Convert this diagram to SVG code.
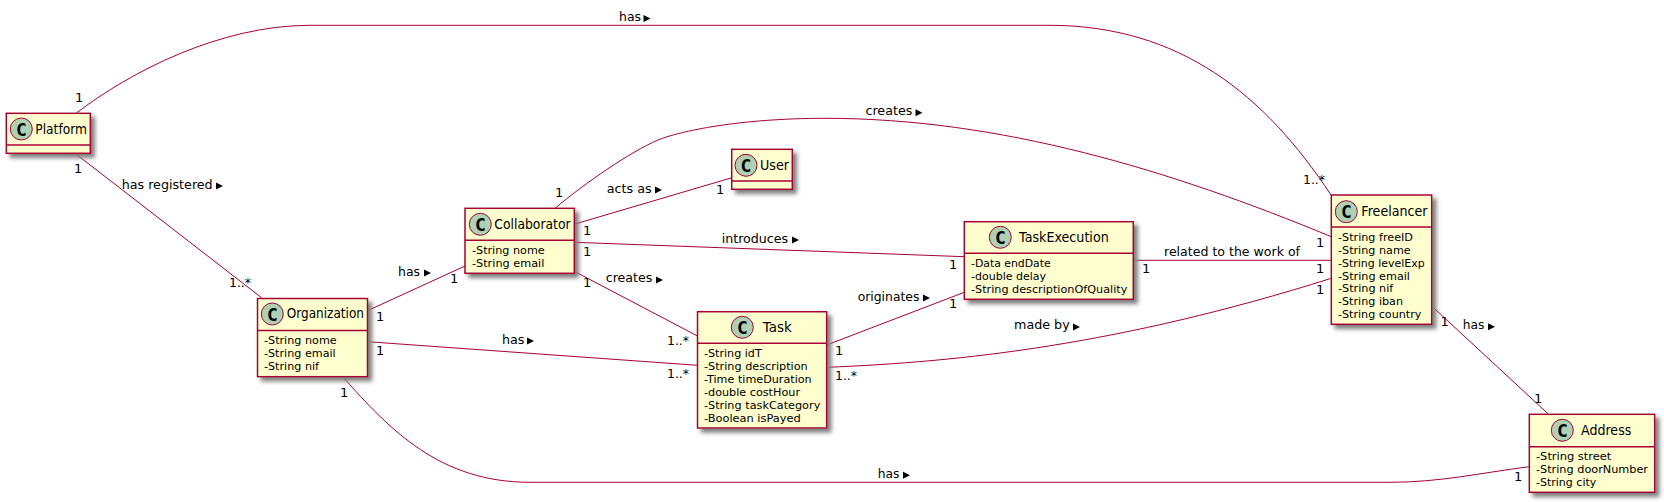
<svg xmlns="http://www.w3.org/2000/svg" width="1664" height="502" viewBox="0 0 1664 502">
<style>
text{font-family:"DejaVu Sans",sans-serif;fill:#000}
.box{fill:#FEFECE;stroke:#A80036;stroke-width:1.5;filter:url(#sh)}
.div{stroke:#A80036;stroke-width:1.5;fill:none}
.circ{fill:#ADD1B2;stroke:#A80036;stroke-width:1}
.c{font-family:"DejaVu Sans Mono",monospace;font-size:18px;font-weight:bold;text-anchor:middle}
.t{font-size:14px}
.a{font-size:11px}
.l{font-size:13px}
.e{fill:none;stroke:#A80036;stroke-width:1}
.tri{fill:#000}
</style>
<defs>
<filter id="sh" x="-20%" y="-20%" width="150%" height="150%"><feDropShadow dx="4" dy="4" stdDeviation="2" flood-color="#808080"/></filter>
<polygon id="tr" points="0,-3.5 7,0 0,3.5"/>
</defs>
<g id="connectors">
<path class="e" d="M76.5,113 C130,72 220,25.3 310,25.3 L1049,25.3 C1180,25.3 1265,95 1331,195"/>
<path class="e" d="M75,153.3 L261.7,297.8"/>
<path class="e" d="M367.5,310.7 L465,266"/>
<path class="e" d="M367.5,341.7 L697.5,365.3"/>
<path class="e" d="M342.7,376.7 C390,430 440,482.3 530,482.3 L1390,482.3 C1440,482.3 1480,473 1529.3,466.7"/>
<path class="e" d="M575,224 L732,177.7"/>
<path class="e" d="M574.3,242.3 L964.3,256.7"/>
<path class="e" d="M575,271.7 L697.5,336"/>
<path class="e" d="M555,208.3 C585,183 630,152 658,140 C680,131 740,118.3 825,118.3 C1000,118.3 1170,170 1331.3,236.7"/>
<path class="e" d="M826.7,345 L964.3,292.3"/>
<path class="e" d="M826.7,367.3 C960,362 1120,345 1331.3,278.3"/>
<path class="e" d="M1133.3,260.3 L1331.3,260.3"/>
<path class="e" d="M1431.7,306 L1548.3,414"/>
<g class="tri">
<use href="#tr" x="643.5" y="18.5"/>
<use href="#tr" x="216" y="186"/>
<use href="#tr" x="424" y="273"/>
<use href="#tr" x="527" y="341"/>
<use href="#tr" x="655" y="190"/>
<use href="#tr" x="656" y="280"/>
<use href="#tr" x="792" y="240"/>
<use href="#tr" x="915.5" y="112.7"/>
<use href="#tr" x="923" y="298"/>
<use href="#tr" x="1073" y="327"/>
<use href="#tr" x="1488" y="326.7"/>
<use href="#tr" x="903" y="475.3"/>
</g>
<g>
<text class="l" x="619" y="21" textLength="22" lengthAdjust="spacingAndGlyphs">has</text>
<text class="l" x="121.7" y="189" textLength="91" lengthAdjust="spacingAndGlyphs">has registered</text>
<text class="l" x="398" y="276" textLength="22" lengthAdjust="spacingAndGlyphs">has</text>
<text class="l" x="502" y="344" textLength="22.5" lengthAdjust="spacingAndGlyphs">has</text>
<text class="l" x="606.7" y="193" textLength="45" lengthAdjust="spacingAndGlyphs">acts as</text>
<text class="l" x="605.7" y="282" textLength="46.7" lengthAdjust="spacingAndGlyphs">creates</text>
<text class="l" x="721.7" y="243" textLength="66.5" lengthAdjust="spacingAndGlyphs">introduces</text>
<text class="l" x="865.4" y="115" textLength="47" lengthAdjust="spacingAndGlyphs">creates</text>
<text class="l" x="857.7" y="301" textLength="61.7" lengthAdjust="spacingAndGlyphs">originates</text>
<text class="l" x="1014" y="329" textLength="55.7" lengthAdjust="spacingAndGlyphs">made by</text>
<text class="l" x="1164" y="256" textLength="136" lengthAdjust="spacingAndGlyphs">related to the work of</text>
<text class="l" x="1462.7" y="329" textLength="21.7" lengthAdjust="spacingAndGlyphs">has</text>
<text class="l" x="877.7" y="477.7" textLength="21.7" lengthAdjust="spacingAndGlyphs">has</text>
<text class="l" x="75" y="102">1</text>
<text class="l" x="74" y="172.7">1</text>
<text class="l" x="229" y="286.7" textLength="22" lengthAdjust="spacingAndGlyphs">1..*</text>
<text class="l" x="376" y="321">1</text>
<text class="l" x="376" y="355">1</text>
<text class="l" x="340" y="397">1</text>
<text class="l" x="450" y="283">1</text>
<text class="l" x="555" y="197">1</text>
<text class="l" x="583" y="235">1</text>
<text class="l" x="583" y="256">1</text>
<text class="l" x="583" y="287">1</text>
<text class="l" x="716" y="194">1</text>
<text class="l" x="667" y="345" textLength="22" lengthAdjust="spacingAndGlyphs">1..*</text>
<text class="l" x="667" y="378" textLength="22" lengthAdjust="spacingAndGlyphs">1..*</text>
<text class="l" x="949" y="269">1</text>
<text class="l" x="949" y="307.7">1</text>
<text class="l" x="835" y="355">1</text>
<text class="l" x="835" y="380" textLength="22" lengthAdjust="spacingAndGlyphs">1..*</text>
<text class="l" x="1142" y="272.7">1</text>
<text class="l" x="1316" y="246.7">1</text>
<text class="l" x="1316" y="273">1</text>
<text class="l" x="1316" y="294">1</text>
<text class="l" x="1303" y="184" textLength="22" lengthAdjust="spacingAndGlyphs">1..*</text>
<text class="l" x="1440.5" y="326">1</text>
<text class="l" x="1534" y="402.7">1</text>
<text class="l" x="1514" y="481">1</text>
</g>
</g>
<g id="Platform">
<rect class="box" x="6.3" y="113.3" width="84" height="40"/>
<path class="div" d="M6.3,145H90.3"/>
<circle class="circ" cx="21.3" cy="129" r="11"/><text class="c" x="21.3" y="135.5">C</text>
<text class="t" x="35.3" y="133.5" textLength="51.7" lengthAdjust="spacingAndGlyphs">Platform</text>
</g>
<g id="Organization">
<rect class="box" x="257.5" y="298.5" width="110" height="78.2"/>
<path class="div" d="M257.5,330.5H367.5"/>
<circle class="circ" cx="272.3" cy="314" r="11"/><text class="c" x="272.3" y="320.5">C</text>
<text class="t" x="286.7" y="318.3" textLength="77.3" lengthAdjust="spacingAndGlyphs">Organization</text>
<text class="a" x="264" y="344" textLength="72.7" lengthAdjust="spacingAndGlyphs">-String nome</text>
<text class="a" x="264" y="357" textLength="71.7" lengthAdjust="spacingAndGlyphs">-String email</text>
<text class="a" x="264" y="370" textLength="55" lengthAdjust="spacingAndGlyphs">-String nif</text>
</g>
<g id="Collaborator">
<rect class="box" x="465" y="208.3" width="109.3" height="65"/>
<path class="div" d="M465,240.3H574.3"/>
<circle class="circ" cx="480.3" cy="224.3" r="11"/><text class="c" x="480.3" y="230.8">C</text>
<text class="t" x="494.3" y="228.5" textLength="76.3" lengthAdjust="spacingAndGlyphs">Collaborator</text>
<text class="a" x="472" y="254" textLength="72.7" lengthAdjust="spacingAndGlyphs">-String nome</text>
<text class="a" x="472" y="267" textLength="72.3" lengthAdjust="spacingAndGlyphs">-String email</text>
</g>
<g id="User">
<rect class="box" x="731.7" y="149.3" width="60.6" height="40"/>
<path class="div" d="M731.7,181H792.3"/>
<circle class="circ" cx="746" cy="165.3" r="11"/><text class="c" x="746" y="171.8">C</text>
<text class="t" x="760" y="169.5" textLength="29" lengthAdjust="spacingAndGlyphs">User</text>
</g>
<g id="Task">
<rect class="box" x="697.5" y="311.7" width="129.2" height="116.3"/>
<path class="div" d="M697.5,343.3H826.7"/>
<circle class="circ" cx="742.3" cy="327.3" r="11"/><text class="c" x="742.3" y="333.8">C</text>
<text class="t" x="762.7" y="332" textLength="29" lengthAdjust="spacingAndGlyphs">Task</text>
<text class="a" x="704" y="357" textLength="57.7" lengthAdjust="spacingAndGlyphs">-String idT</text>
<text class="a" x="704" y="370" textLength="103.7" lengthAdjust="spacingAndGlyphs">-String description</text>
<text class="a" x="704" y="383" textLength="107.7" lengthAdjust="spacingAndGlyphs">-Time timeDuration</text>
<text class="a" x="704" y="396" textLength="96" lengthAdjust="spacingAndGlyphs">-double costHour</text>
<text class="a" x="704" y="409" textLength="116.3" lengthAdjust="spacingAndGlyphs">-String taskCategory</text>
<text class="a" x="704" y="422" textLength="96.7" lengthAdjust="spacingAndGlyphs">-Boolean isPayed</text>
</g>
<g id="TaskExecution">
<rect class="box" x="964.3" y="221.7" width="169" height="77.6"/>
<path class="div" d="M964.3,253.3H1133.3"/>
<circle class="circ" cx="1000.3" cy="237.3" r="11"/><text class="c" x="1000.3" y="243.8">C</text>
<text class="t" x="1019" y="241.7" textLength="89.7" lengthAdjust="spacingAndGlyphs">TaskExecution</text>
<text class="a" x="971" y="267" textLength="79.7" lengthAdjust="spacingAndGlyphs">-Data endDate</text>
<text class="a" x="971" y="280" textLength="75" lengthAdjust="spacingAndGlyphs">-double delay</text>
<text class="a" x="971" y="293" textLength="156.3" lengthAdjust="spacingAndGlyphs">-String descriptionOfQuality</text>
</g>
<g id="Freelancer">
<rect class="box" x="1331.3" y="195" width="100.4" height="129.3"/>
<path class="div" d="M1331.3,227H1431.7"/>
<circle class="circ" cx="1346.3" cy="211.7" r="11"/><text class="c" x="1346.3" y="218.2">C</text>
<text class="t" x="1361.3" y="215.7" textLength="66.3" lengthAdjust="spacingAndGlyphs">Freelancer</text>
<text class="a" x="1338" y="241" textLength="75" lengthAdjust="spacingAndGlyphs">-String freeID</text>
<text class="a" x="1338" y="254" textLength="72.7" lengthAdjust="spacingAndGlyphs">-String name</text>
<text class="a" x="1338" y="267" textLength="86.7" lengthAdjust="spacingAndGlyphs">-String levelExp</text>
<text class="a" x="1338" y="280" textLength="72" lengthAdjust="spacingAndGlyphs">-String email</text>
<text class="a" x="1338" y="292" textLength="55.3" lengthAdjust="spacingAndGlyphs">-String nif</text>
<text class="a" x="1338" y="305" textLength="65" lengthAdjust="spacingAndGlyphs">-String iban</text>
<text class="a" x="1338" y="318" textLength="83.3" lengthAdjust="spacingAndGlyphs">-String country</text>
</g>
<g id="Address">
<rect class="box" x="1529.3" y="414.3" width="125.4" height="78"/>
<path class="div" d="M1529.3,446.7H1654.7"/>
<circle class="circ" cx="1562.3" cy="430.3" r="11"/><text class="c" x="1562.3" y="436.8">C</text>
<text class="t" x="1581" y="434.7" textLength="50.3" lengthAdjust="spacingAndGlyphs">Address</text>
<text class="a" x="1536" y="460" textLength="75.3" lengthAdjust="spacingAndGlyphs">-String street</text>
<text class="a" x="1536" y="473" textLength="112" lengthAdjust="spacingAndGlyphs">-String doorNumber</text>
<text class="a" x="1536" y="486" textLength="60.3" lengthAdjust="spacingAndGlyphs">-String city</text>
</g>
</svg>
